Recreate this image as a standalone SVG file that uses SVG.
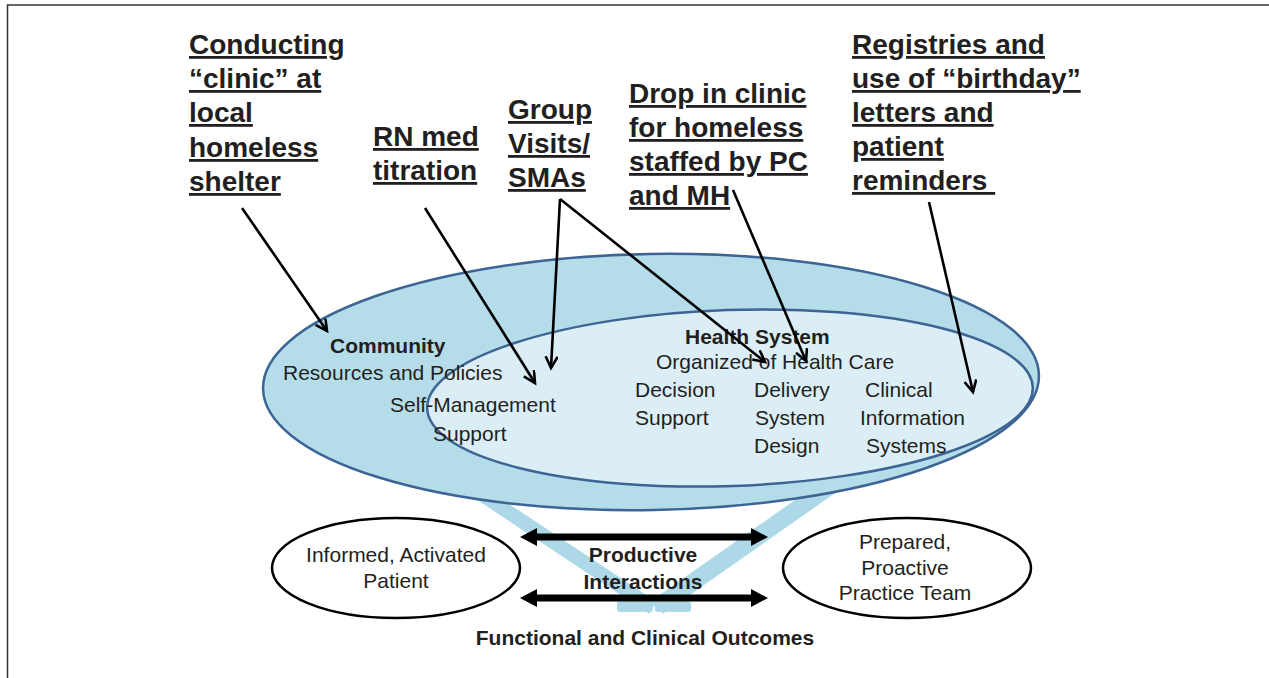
<svg xmlns="http://www.w3.org/2000/svg" width="1269" height="678" viewBox="0 0 1269 678">
<style>
.t{font-family:"Liberation Sans",Arial,sans-serif;font-size:28px;font-weight:bold;fill:#231f20;text-decoration:underline;text-decoration-thickness:3.5px;text-underline-offset:3px;white-space:pre}
.r{font-family:"Liberation Sans",Arial,sans-serif;font-size:21px;fill:#231f20}
.b{font-family:"Liberation Sans",Arial,sans-serif;font-size:21px;font-weight:bold;fill:#231f20}
.m{text-anchor:middle}
.call{stroke:#000;stroke-width:2.6;fill:none;marker-end:url(#ah)}
.band{stroke:#acd8e7;stroke-width:14;fill:none}
.oval{fill:#fff;stroke:#000;stroke-width:2.5}
.dbl{fill:#000}
</style>
<defs>
<marker id="ah" markerWidth="15" markerHeight="15" refX="12" refY="6.5" orient="auto" markerUnits="userSpaceOnUse">
<path d="M0.5,0.5 L12,6.5 L0.5,12.5" fill="none" stroke="#000" stroke-width="2.6"/>
</marker>
</defs>
<rect width="1269" height="678" fill="#fff"/>
<g id="frame">
<path d="M7.5,678 L7.5,5 L1269,5" fill="none" stroke="#333" stroke-width="1.5"/>
</g>
<g id="funnel">
<line class="band" x1="445" y1="470" x2="650" y2="606" stroke="#d8d8d8" transform="translate(3,2)"/>
<line class="band" x1="850" y1="470" x2="656" y2="606" stroke="#d8d8d8" transform="translate(3,2)"/>
<line class="band" x1="445" y1="470" x2="650" y2="606"/>
<line class="band" x1="850" y1="470" x2="656" y2="606"/>
<rect x="617" y="601" width="36" height="11" rx="3" fill="#acd8e7"/>
<rect x="655" y="601" width="36" height="11" rx="3" fill="#acd8e7"/>
</g>
<g id="community-shape">
<ellipse cx="651" cy="382" rx="388" ry="128" transform="rotate(-1 651 382)" fill="#b4dde9" stroke="#3c6494" stroke-width="2.5"/>
</g>
<g id="health-system">
<ellipse cx="730" cy="398" rx="303" ry="88" transform="rotate(-2 730 398)" fill="#dceef5" stroke="#3c6494" stroke-width="2.5"/>
<text class="b" x="685" y="344">Health System</text>
<text class="r" x="656" y="369">Organized of Health Care</text>
</g>
<g id="community">
<text class="b" x="330" y="353">Community</text>
<text class="r" x="283" y="380">Resources and Policies</text>
</g>
<g id="self-management">
<text class="r" x="390" y="412">Self-Management</text>
<text class="r" x="433" y="441">Support</text>
</g>
<g id="decision-support">
<text class="r" x="635" y="397">Decision</text>
<text class="r" x="635" y="425">Support</text>
</g>
<g id="delivery-system">
<text class="r" x="754" y="397">Delivery</text>
<text class="r" x="755" y="425">System</text>
<text class="r" x="754" y="453">Design</text>
</g>
<g id="clinical-info">
<text class="r" x="865" y="397">Clinical</text>
<text class="r" x="860" y="425">Information</text>
<text class="r" x="866" y="453">Systems</text>
</g>
<g id="patient">
<ellipse class="oval" cx="396" cy="568" rx="124" ry="50"/>
<text class="r m" x="396" y="562">Informed, Activated</text>
<text class="r m" x="396" y="588">Patient</text>
</g>
<g id="team">
<ellipse class="oval" cx="907" cy="568" rx="124" ry="50"/>
<text class="r m" x="905" y="549">Prepared,</text>
<text class="r m" x="905" y="575">Proactive</text>
<text class="r m" x="905" y="600">Practice Team</text>
</g>
<g id="interactions">
<polygon class="dbl" points="520,537 537,528 537,533.5 751,533.5 751,528 768,537 751,546 751,540.5 537,540.5 537,546"/>
<polygon class="dbl" points="520,598 537,589 537,594.5 751,594.5 751,589 768,598 751,607 751,601.5 537,601.5 537,607"/>
<text class="b m" x="643" y="562">Productive</text>
<text class="b m" x="643" y="589">Interactions</text>
</g>
<g id="outcomes">
<text class="b m" x="645" y="645">Functional and Clinical Outcomes</text>
</g>
<g id="label-shelter">
<text class="t" x="189" y="54">Conducting</text>
<text class="t" x="189" y="88">“clinic” at</text>
<text class="t" x="189" y="122">local</text>
<text class="t" x="189" y="157">homeless</text>
<text class="t" x="189" y="191">shelter</text>
</g>
<g id="label-rn">
<text class="t" x="373" y="146">RN med</text>
<text class="t" x="373" y="180">titration</text>
</g>
<g id="label-group">
<text class="t" x="508" y="119">Group</text>
<text class="t" x="508" y="153">Visits/</text>
<text class="t" x="508" y="187">SMAs</text>
</g>
<g id="label-dropin">
<text class="t" x="629" y="103">Drop in clinic</text>
<text class="t" x="629" y="137">for homeless</text>
<text class="t" x="629" y="171">staffed by PC</text>
<text class="t" x="629" y="205">and MH</text>
</g>
<g id="label-registries">
<text class="t" x="852" y="54">Registries and</text>
<text class="t" x="852" y="88">use of “birthday”</text>
<text class="t" x="852" y="122">letters and</text>
<text class="t" x="852" y="156">patient</text>
<text class="t" x="852" y="190">reminders </text>
</g>
<g id="connectors">
<line class="call" x1="242" y1="208" x2="327" y2="331"/>
<line class="call" x1="425" y1="208" x2="535" y2="383"/>
<line class="call" x1="560" y1="199" x2="551" y2="368"/>
<line class="call" x1="560" y1="199" x2="765" y2="362"/>
<line class="call" x1="733" y1="190" x2="806" y2="361"/>
<line class="call" x1="929" y1="202" x2="973" y2="392"/>
</g>
</svg>
